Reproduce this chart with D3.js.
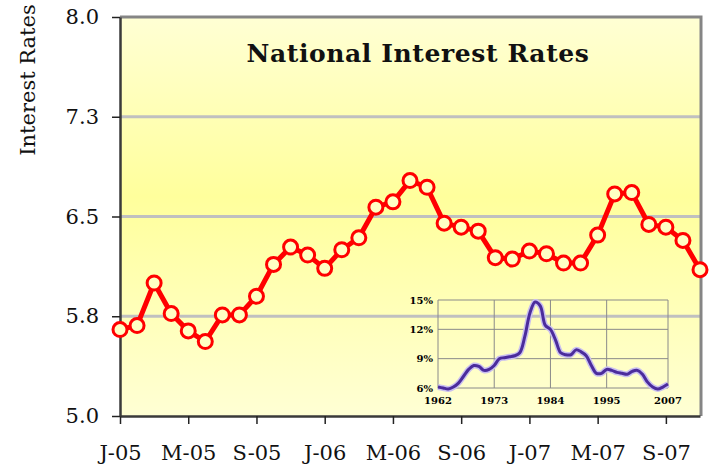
<!DOCTYPE html>
<html>
<head>
<meta charset="utf-8">
<script src="https://cdn.jsdelivr.net/npm/d3@7"></script>
<style>
  body { margin: 0; background: #fff; }
  svg { display: block; font-family: "DejaVu Serif", serif; }
</style>
</head>
<body>
<svg id="chart" width="709" height="467"></svg>
<script>
// monthly national rates, Jan 2005 - Nov 2007
const months = [
  "Jan-05","Feb-05","Mar-05","Apr-05","May-05","Jun-05","Jul-05","Aug-05","Sep-05","Oct-05","Nov-05","Dec-05",
  "Jan-06","Feb-06","Mar-06","Apr-06","May-06","Jun-06","Jul-06","Aug-06","Sep-06","Oct-06","Nov-06","Dec-06",
  "Jan-07","Feb-07","Mar-07","Apr-07","May-07","Jun-07","Jul-07","Aug-07","Sep-07","Oct-07","Nov-07"
];
const rates = [
  5.65, 5.68, 6.00, 5.77, 5.64, 5.56, 5.76, 5.76, 5.90, 6.14, 6.27, 6.21,
  6.11, 6.25, 6.34, 6.57, 6.61, 6.77, 6.72, 6.45, 6.42, 6.39, 6.19, 6.18,
  6.24, 6.22, 6.15, 6.15, 6.36, 6.67, 6.68, 6.44, 6.42, 6.32, 6.10
];
const tickMonths = ["Jan-05","May-05","Sep-05","Jan-06","May-06","Sep-06","Jan-07","May-07","Sep-07"];
const tickLabels = ["J-05","M-05","S-05","J-06","M-06","S-06","J-07","M-07","S-07"];
const yTicks = [5.0, 5.75, 6.5, 7.25, 8.0];
const yTickLabels = ["5.0","5.8","6.5","7.3","8.0"];

// inset: long-run rates 1962 - 2007
const insetYears = [
  1962,1963,1964,1965,1966,1967,1968,1969,1970,1971,1972,1973,1974,1975,1976,1977,
  1978,1979,1980,1981,1982,1983,1984,1985,1986,1987,1988,1989,1990,1991,1992,1993,
  1994,1995,1996,1997,1998,1999,2000,2001,2002,2003,2004,2005,2006,2007
];
const insetRates = [
  6.1, 6.0, 5.9, 6.1, 6.5, 7.2, 7.9, 8.3, 8.2, 7.8, 7.9, 8.3, 9.0, 9.1, 9.2, 9.3,
  9.6, 11.3, 13.7, 14.8, 14.4, 12.4, 12.0, 10.9, 9.6, 9.4, 9.4, 9.9, 9.7, 9.3, 8.3, 7.5,
  7.5, 7.9, 7.8, 7.6, 7.5, 7.4, 7.7, 7.8, 7.4, 6.6, 6.1, 5.9, 6.1, 6.4
];
const insetXTicks = [1962, 1973, 1984, 1995, 2007];
const insetYTicks = [6, 9, 12, 15];

const svg = d3.select("#chart");
const margin = { top: 17, right: 9, bottom: 51, left: 120 };
const W = 709, H = 467;
const innerW = W - margin.left - margin.right;
const innerH = H - margin.top - margin.bottom;

const defs = svg.append("defs");
const grad = defs.append("linearGradient")
  .attr("id", "bg").attr("x1", 0).attr("y1", 0).attr("x2", 0).attr("y2", 1);
grad.append("stop").attr("offset", "0%").attr("stop-color", "#ffffd4");
grad.append("stop").attr("offset", "45%").attr("stop-color", "#ffff9c");
grad.append("stop").attr("offset", "100%").attr("stop-color", "#ffffd4");

const g = svg.append("g").attr("transform", `translate(${margin.left},${margin.top})`);

const x = d3.scalePoint().domain(months).range([0, innerW]);
const y = d3.scaleLinear().domain([5, 8]).range([innerH, 0]);

g.append("rect")
  .attr("width", innerW).attr("height", innerH)
  .attr("fill", "url(#bg)");

// gridlines
g.append("g").selectAll("line")
  .data(yTicks.filter(d => d > 5 && d < 8))
  .join("line")
  .attr("x1", 0).attr("x2", innerW)
  .attr("y1", d => y(d)).attr("y2", d => y(d))
  .attr("stroke", "#c0c0c0").attr("stroke-width", 3);

// top / right frame
g.append("path")
  .attr("d", `M0,0H${innerW + 1}V${innerH}`)
  .attr("fill", "none").attr("stroke", "#858585").attr("stroke-width", 3);

// inset chart
const ix = d3.scaleLinear().domain([1962, 2007]).range([318, 548]);
const iy = d3.scaleLinear().domain([6, 15]).range([371, 283]);
const inset = g.append("g");
inset.append("g").selectAll("line")
  .data(insetYTicks).join("line")
  .attr("x1", ix(1962)).attr("x2", ix(2007))
  .attr("y1", d => iy(d)).attr("y2", d => iy(d))
  .attr("stroke", "#8a8a8a").attr("stroke-width", 1);
inset.append("g").selectAll("line")
  .data(insetXTicks).join("line")
  .attr("x1", d => ix(d)).attr("x2", d => ix(d))
  .attr("y1", iy(6)).attr("y2", iy(15))
  .attr("stroke", "#8a8a8a").attr("stroke-width", 1);
const insetLine = d3.line()
  .x((d, i) => ix(insetYears[i]))
  .y(d => iy(d))
  .curve(d3.curveCatmullRom);
inset.append("path")
  .datum(insetRates)
  .attr("d", insetLine)
  .attr("fill", "none").attr("stroke", "#c9bff0").attr("stroke-width", 6)
  .attr("stroke-linejoin", "round");
inset.append("path")
  .datum(insetRates)
  .attr("d", insetLine)
  .attr("fill", "none").attr("stroke", "#4b2c9c").attr("stroke-width", 3)
  .attr("stroke-linejoin", "round");
inset.append("g").selectAll("text")
  .data(insetYTicks).join("text")
  .attr("x", ix(1962) - 5).attr("y", d => iy(d))
  .attr("dy", "0.35em")
  .attr("text-anchor", "end")
  .attr("font-size", 10).attr("font-weight", "bold")
  .text(d => d + "%");
inset.append("g").selectAll("text")
  .data(insetXTicks).join("text")
  .attr("x", d => ix(d)).attr("y", iy(6) + 16)
  .attr("text-anchor", "middle")
  .attr("font-size", 10).attr("font-weight", "bold")
  .text(d => d);

// axes
const xAxis = d3.axisBottom(x)
  .tickValues(tickMonths)
  .tickFormat(d => tickLabels[tickMonths.indexOf(d)])
  .tickSize(8).tickSizeOuter(0).tickPadding(21);
const yAxis = d3.axisLeft(y)
  .tickValues(yTicks)
  .tickFormat(d => yTickLabels[yTicks.indexOf(d)])
  .tickSize(8).tickSizeOuter(0).tickPadding(13);

const gx = g.append("g").attr("transform", `translate(0,${innerH})`).call(xAxis);
const gy = g.append("g").call(yAxis);
[gx, gy].forEach(a => {
  a.attr("font-family", "DejaVu Serif, serif").attr("font-size", 21);
  a.select(".domain").attr("stroke", "#3a3a3a").attr("stroke-width", 2.5);
  a.selectAll(".tick line").attr("stroke", "#222").attr("stroke-width", 1.5);
  a.selectAll(".tick text").attr("fill", "#111");
});

// series
g.append("path")
  .datum(rates)
  .attr("fill", "none")
  .attr("stroke", "#ff0000")
  .attr("stroke-width", 5)
  .attr("stroke-linejoin", "round")
  .attr("d", d3.line().x((d, i) => x(months[i])).y(d => y(d)));

g.append("g").selectAll("circle")
  .data(rates).join("circle")
  .attr("cx", (d, i) => x(months[i]))
  .attr("cy", d => y(d))
  .attr("r", 7)
  .attr("fill", "#ffffc4")
  .attr("stroke", "#ff0000")
  .attr("stroke-width", 3);

// title
svg.append("text")
  .attr("x", 418).attr("y", 62)
  .attr("text-anchor", "middle")
  .attr("font-size", 25).attr("font-weight", "bold")
  .attr("letter-spacing", 0.6)
  .attr("fill", "#111")
  .text("National Interest Rates");

svg.append("text")
  .attr("transform", "translate(35,80) rotate(-90)")
  .attr("text-anchor", "middle")
  .attr("font-size", 21)
  .attr("fill", "#111")
  .text("Interest Rates");
</script>
</body>
</html>
